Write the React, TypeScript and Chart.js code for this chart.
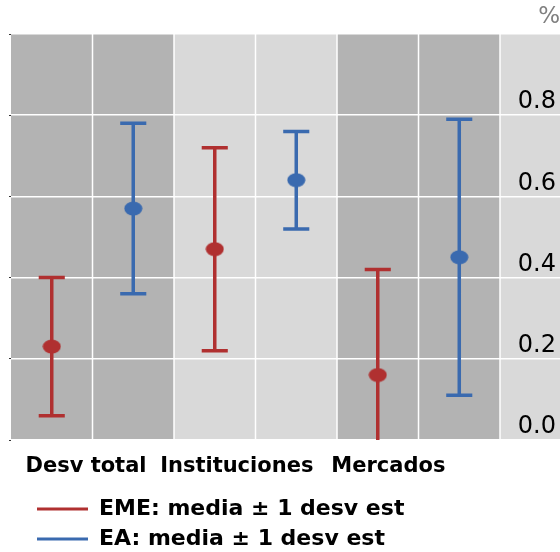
import React, { useEffect, useRef } from 'react';
import { Chart, registerables } from 'chart.js';

Chart.register(...registerables);

// ---- data ----
const categories = ['Desv total', 'Instituciones', 'Mercados'];
const categoryTickPos = [0.42, 2.27, 4.13];
const seriesLabels = ['EME: media ± 1 desv est', 'EA: media ± 1 desv est'];
const emeX = [0, 2, 4];
const eaX = [1, 3, 5];
const emeMean = [0.23, 0.47, 0.16];
const emeSd = [0.17, 0.25, 0.26];
const eaMean = [0.57, 0.64, 0.45];
const eaSd = [0.21, 0.12, 0.34];
const yTicks = [0, 0.2, 0.4, 0.6, 0.8, 1.0];
const yTickLabels = ['0.0', '0.2', '0.4', '0.6', '0.8', ''];

// ---- style ----
const RED = '#b03030';
const BLUE = '#3a6aaf';
const panelColors = ['#b3b3b3', '#d9d9d9', '#b3b3b3', '#d9d9d9'];
const FAMILY = "'DejaVu Sans', sans-serif";
const CAP_HALF = 0.16;

function whiskers(xs: number[], means: number[], sds: number[]) {
  const pts: { x: number; y: number | null }[] = [];
  xs.forEach((x, i) => {
    pts.push({ x, y: means[i] - sds[i] }, { x, y: means[i] + sds[i] }, { x, y: null });
  });
  return pts;
}

function caps(xs: number[], means: number[], sds: number[]) {
  const pts: { x: number; y: number | null }[] = [];
  xs.forEach((x, i) => {
    [means[i] - sds[i], means[i] + sds[i]].forEach((y) => {
      pts.push({ x: x - CAP_HALF, y }, { x: x + CAP_HALF, y }, { x, y: null });
    });
  });
  return pts;
}

function ellipse(color: string) {
  const c = document.createElement('canvas');
  c.width = 19;
  c.height = 15;
  const g = c.getContext('2d')!;
  g.fillStyle = color;
  g.beginPath();
  g.ellipse(9.5, 7.5, 9, 7, 0, 0, Math.PI * 2);
  g.fill();
  return c;
}

const panelsPlugin = {
  id: 'panels',
  beforeDraw(chart: any) {
    const { ctx, chartArea: a, scales } = chart;
    const x = scales.x;
    ctx.save();
    panelColors.forEach((c, g) => {
      const l = x.getPixelForValue(2 * g - 0.5);
      const r = g < panelColors.length - 1 ? x.getPixelForValue(2 * g + 1.5) : a.right;
      ctx.fillStyle = c;
      ctx.fillRect(l, a.top, r - l, a.bottom - a.top);
    });
    ctx.strokeStyle = '#ffffff';
    ctx.lineWidth = 1.5;
    for (let v = 0.5; v < 6; v += 1) {
      const px = x.getPixelForValue(v);
      ctx.beginPath();
      ctx.moveTo(px, a.top);
      ctx.lineTo(px, a.bottom);
      ctx.stroke();
    }
    ctx.restore();
  },
};

const legendShift = {
  id: 'legendShift',
  afterLayout(chart: any) {
    if (chart.legend) chart.legend.left += 20;
  },
};

export default function App() {
  const ref = useRef<HTMLCanvasElement>(null);
  useEffect(() => {
    if (!ref.current) return;
    const catFont = { family: FAMILY, size: 21, weight: 'bold' as any };
    const legFont = { family: FAMILY, size: 22, weight: 'bold' as any };
    const lineDs = (data: any, color: string) => ({
      type: 'line' as const,
      data,
      borderColor: color,
      backgroundColor: color,
      borderWidth: 3.5,
      pointRadius: 0,
      pointHoverRadius: 0,
      showLine: true,
      spanGaps: false,
      fill: false,
      tension: 0,
      borderCapStyle: 'butt' as const,
      order: 2,
      xAxisID: 'x',
      yAxisID: 'y',
    });
    const chart = new Chart(ref.current, {
      type: 'scatter',
      data: {
        datasets: [
          {
            type: 'scatter',
            label: seriesLabels[0],
            data: emeX.map((x, i) => ({ x, y: emeMean[i] })),
            pointStyle: ellipse(RED) as any,
            backgroundColor: RED,
            borderColor: RED,
            order: 1,
            xAxisID: 'x',
            yAxisID: 'y',
          },
          {
            type: 'scatter',
            label: seriesLabels[1],
            data: eaX.map((x, i) => ({ x, y: eaMean[i] })),
            pointStyle: ellipse(BLUE) as any,
            backgroundColor: BLUE,
            borderColor: BLUE,
            order: 1,
            xAxisID: 'x',
            yAxisID: 'y',
          },
          lineDs(whiskers(emeX, emeMean, emeSd), RED),
          lineDs(caps(emeX, emeMean, emeSd), RED),
          lineDs(whiskers(eaX, eaMean, eaSd), BLUE),
          lineDs(caps(eaX, eaMean, eaSd), BLUE),
        ] as any,
      },
      options: {
        responsive: false,
        animation: false,
        devicePixelRatio: 1,
        layout: { autoPadding: false, padding: { left: 9, right: 0, top: 0, bottom: 0 } },
        scales: {
          x: {
            type: 'linear',
            position: 'bottom',
            min: -0.5,
            max: 6.236,
            grid: { display: false },
            border: { display: false },
            afterBuildTicks: (s: any) => {
              s.ticks = categoryTickPos.map((v) => ({ value: v }));
            },
            afterFit: (s: any) => {
              s.height = 50;
            },
            ticks: {
              autoSkip: false,
              maxRotation: 0,
              padding: 6,
              color: '#000',
              font: catFont,
              callback: (_v: any, i: number) => categories[i],
            },
          } as any,
          y: {
            type: 'linear',
            position: 'right',
            min: 0,
            max: 1,
            afterBuildTicks: (s: any) => {
              s.ticks = yTicks.map((v) => ({ value: v }));
            },
            afterFit: (s: any) => {
              s.width = 0;
            },
            grid: { color: '#ffffff', lineWidth: 1.5, drawTicks: false },
            border: { display: false },
            ticks: {
              mirror: true,
              padding: -4,
              labelOffset: -13,
              color: '#000',
              font: { family: FAMILY, size: 24, weight: 'normal' as any },
              callback: (_v: any, i: number) => yTickLabels[i],
            },
          } as any,
          yl: {
            type: 'linear',
            position: 'left',
            min: 0,
            max: 1,
            afterBuildTicks: (s: any) => {
              s.ticks = yTicks.map((v) => ({ value: v }));
            },
            afterFit: (s: any) => {
              s.width = 2;
            },
            grid: { drawOnChartArea: false, drawTicks: true, tickLength: 2, color: '#333333' },
            border: { display: false },
            ticks: { display: false },
          } as any,
        },
        plugins: {
          tooltip: { enabled: false },
          title: {
            display: true,
            text: '%',
            align: 'end',
            color: '#808080',
            font: { family: FAMILY, size: 23, weight: 'normal' as any, lineHeight: 1 },
            padding: { top: 5.5, bottom: 5.5 },
          },
          legend: {
            position: 'bottom',
            align: 'start',
            labels: {
              boxWidth: 51,
              boxHeight: 3,
              padding: 8,
              color: '#000',
              font: legFont,
              generateLabels: () =>
                seriesLabels.map((t, i) => ({
                  text: t,
                  fillStyle: i === 0 ? RED : BLUE,
                  strokeStyle: i === 0 ? RED : BLUE,
                  lineWidth: 0,
                  hidden: false,
                  datasetIndex: i,
                })),
            },
          },
        },
      },
      plugins: [panelsPlugin, legendShift],
    });
    return () => chart.destroy();
  }, []);

  return (
    <div style={{ position: 'absolute', left: 0, top: 0, width: 560, height: 552, overflow: 'hidden', background: '#fff' }}>
      <canvas ref={ref} width={560} height={560} style={{ width: 560, height: 560, display: 'block' }} />
    </div>
  );
}
